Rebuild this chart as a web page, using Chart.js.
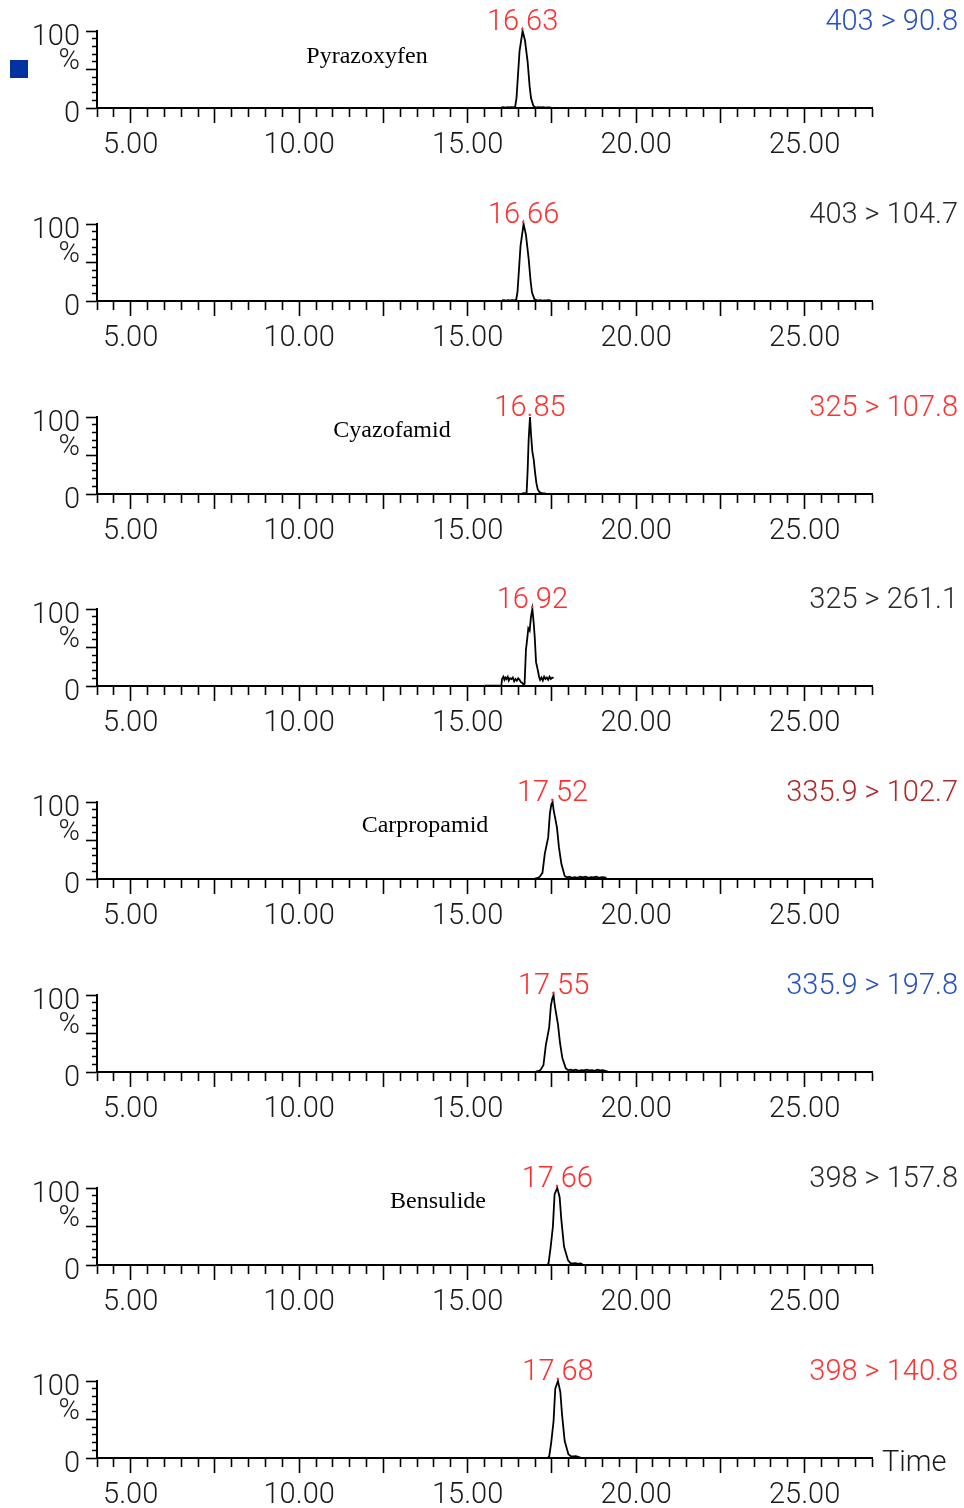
<!DOCTYPE html>
<html>
<head>
<meta charset="utf-8">
<script src="https://cdn.jsdelivr.net/npm/chart.js@4/dist/chart.umd.min.js"></script>
<style>
  html, body { margin: 0; padding: 0; background: #fff; width: 964px; height: 1508px; overflow: hidden; }
  canvas.panel { position: absolute; left: 0; }
</style>
</head>
<body>
<script>
// ---- chromatogram traces: retention time (min) and relative intensity (%) ----
const time1 = [16.00,16.06,16.12,16.18,16.24,16.30,16.36,16.41,16.45,16.54,16.63,16.70,16.78,16.84,16.88,16.95,17.00,17.06,17.12,17.18,17.24,17.30,17.36,17.42,17.48];
const signal1 = [0.8,1.2,0.6,1.0,0.7,1.1,0.8,1.5,13,74,100,88,60,28,13,3,1.2,0.8,1.1,0.7,1.0,0.6,0.9,0.7,0.5];

const time2 = [16.02,16.08,16.14,16.20,16.26,16.32,16.38,16.44,16.48,16.57,16.66,16.73,16.81,16.87,16.91,16.98,17.04,17.10,17.16,17.22,17.28,17.34,17.40,17.48];
const signal2 = [0.7,1.1,0.6,1.0,0.8,1.2,0.7,1.4,12,72,100,86,55,25,11,2.5,1.1,0.8,1.0,0.6,0.9,0.7,1.0,0.5];

const time3 = [16.61,16.66,16.71,16.75,16.78,16.81,16.85,16.88,16.92,16.96,17.00,17.04,17.08,17.13,17.18,17.23,17.28,17.33];
const signal3 = [0.5,1.0,0.8,2,30,70,100,78,55,45,28,14,6,2.5,1.5,1.0,0.8,0.5];

const time4 = [15.50,16.00,16.02,16.06,16.09,16.12,16.15,16.19,16.22,16.26,16.30,16.34,16.38,16.42,16.46,16.50,16.54,16.58,16.62,16.66,16.69,16.73,16.77,16.80,16.84,16.88,16.92,16.96,16.99,17.03,17.08,17.12,17.15,17.19,17.23,17.27,17.31,17.35,17.39,17.43,17.47,17.51,17.55];
const signal4 = [0.5,0.5,9,12,8,11,9,12,7,10,9,11,6,9,7,10,8,5,4,2,3,47,62,75,72,90,100,82,64,31,21,12,8,11,7,12,9,11,8,12,9,11,10];

const time5 = [16.99,17.05,17.10,17.14,17.22,17.29,17.39,17.44,17.48,17.52,17.55,17.58,17.65,17.71,17.78,17.88,17.95,18.02,18.10,18.18,18.26,18.34,18.42,18.50,18.58,18.66,18.74,18.82,18.90,18.98,19.06,19.12];
const signal5 = [0.5,1,2,3,8,33,54,85,96,100,90,83,67,41,20,4,2,3,1.5,2.5,1.5,3,2,3,1.5,2.5,2,3,1.5,2.5,2,1.5];

const time6 = [17.02,17.08,17.13,17.17,17.25,17.32,17.42,17.47,17.51,17.55,17.58,17.61,17.68,17.74,17.81,17.91,17.98,18.05,18.13,18.21,18.29,18.37,18.45,18.53,18.61,18.69,18.77,18.85,18.93,19.01,19.09,19.15];
const signal6 = [0.5,1,2,3,9,35,58,86,95,100,88,80,62,38,18,5,2.5,3,2,3,1.5,2.5,2,3,2,2.5,1.5,3,2,2.5,1.5,1];

const time7 = [17.36,17.40,17.46,17.53,17.58,17.66,17.73,17.78,17.86,17.98,18.05,18.12,18.20,18.28,18.35,18.41];
const signal7 = [0.5,2,22,50,92,100,88,59,24,6,2.5,2,2.5,1.5,2,1];

const time8 = [17.38,17.42,17.48,17.55,17.60,17.68,17.75,17.80,17.88,17.99,18.06,18.13,18.21,18.28,18.34];
const signal8 = [0.5,2,20,48,90,100,86,57,22,5,2.5,2,2.5,1.5,1];

const traceTimes = [time1, time2, time3, time4, time5, time6, time7, time8];
const traceSignals = [signal1, signal2, signal3, signal4, signal5, signal6, signal7, signal8];

// apex retention times printed above each peak
const apexTimes = [16.63, 16.66, 16.85, 16.92, 17.52, 17.55, 17.66, 17.68];
// MRM transitions (precursor > product)
const transitions = ['403 > 90.8', '403 > 104.7', '325 > 107.8', '325 > 261.1', '335.9 > 102.7', '335.9 > 197.8', '398 > 157.8', '398 > 140.8'];
// compound names (one per pair of transitions)
const compounds = ['Pyrazoxyfen', '', 'Cyazofamid', '', 'Carpropamid', '', 'Bensulide', ''];
// axis labels
const timeTickLabels = ['5.00', '10.00', '15.00', '20.00', '25.00'];
const intensityTickLabels = ['0', '100'];

// ---- styling / layout ----
const transitionColors = ['#2550c4', '#2a2a2a', '#ff3030', '#2a2a2a', '#b02828', '#2550c4', '#2a2a2a', '#ff3030'];
const apexColor = '#ff2e2e';
const textColor = '#1a1a1a';
const compoundX = [367, 0, 392, 0, 425, 0, 438, 0];
const compoundDy = [26, 0, 14, 0, 24, 0, 14, 0];
const AXIS_FONT = { family: 'Roboto', size: 29, weight: 300, lineHeight: 1 };
const AXIS_FONT_CSS = '300 29px Roboto';
const PANEL_STEP = 192.8;
const PANEL_H = 193;

const isMultiple = (v, step) => Math.abs(v / step - Math.round(v / step)) < 1e-6;

const panelDecor = {
  id: 'panelDecor',
  afterDraw(chart, args, o) {
    const { ctx, chartArea, scales } = chart;
    const xs = scales.x, ys = scales.y;
    ctx.save();
    ctx.textBaseline = 'middle';
    ctx.font = AXIS_FONT_CSS;
    // percent sign beside the mid tick
    ctx.fillStyle = textColor;
    ctx.textAlign = 'right';
    ctx.fillText('%', 80, ys.getPixelForValue(50) - 8);
    // apex retention time
    ctx.fillStyle = apexColor;
    ctx.textAlign = 'center';
    ctx.fillText(o.apex.toFixed(2), xs.getPixelForValue(o.apex), chartArea.top - 8);
    // transition label, top right
    ctx.fillStyle = o.color;
    ctx.textAlign = 'right';
    ctx.fillText(o.transition, 958, chartArea.top - 8);
    // compound name
    if (o.name) {
      ctx.font = '24px "Liberation Serif", "Times New Roman", serif';
      ctx.fillStyle = '#000';
      ctx.textAlign = 'center';
      ctx.fillText(o.name, o.nameX, chartArea.top + o.nameDy);
    }
    // selection marker
    if (o.marker) {
      ctx.fillStyle = '#0033a0';
      ctx.fillRect(10, 60, 18, 18);
    }
    // axis title on the last trace
    if (o.timeTitle) {
      ctx.font = AXIS_FONT_CSS;
      ctx.fillStyle = textColor;
      ctx.textAlign = 'left';
      ctx.fillText('Time', 882, chartArea.bottom + 6);
    }
    ctx.restore();
  }
};

for (let i = 0; i < 8; i++) {
  const cv = document.createElement('canvas');
  cv.className = 'panel';
  cv.width = 964;
  cv.height = PANEL_H;
  cv.style.top = Math.round(i * PANEL_STEP) + 'px';
  document.body.appendChild(cv);

  const points = traceTimes[i].map((t, k) => ({ x: t, y: traceSignals[i][k] }));

  new Chart(cv, {
    type: 'line',
    data: {
      datasets: [{
        data: points,
        borderColor: '#000',
        borderWidth: 1.8,
        pointRadius: 0,
        tension: 0,
        fill: false,
        clip: false
      }]
    },
    options: {
      responsive: false,
      animation: false,
      devicePixelRatio: 1,
      events: [],
      layout: { padding: { top: 31, right: 92, left: 0, bottom: 0 } },
      plugins: {
        legend: { display: false },
        tooltip: { enabled: false },
        panelDecor: {
          apex: apexTimes[i],
          transition: transitions[i],
          color: transitionColors[i],
          name: compounds[i],
          nameX: compoundX[i],
          nameDy: compoundDy[i],
          marker: i === 0,
          timeTitle: i === 7
        }
      },
      scales: {
        x: {
          type: 'linear',
          min: 4,
          max: 27,
          afterFit: s => { s.height = PANEL_H - 108; },
          border: { display: true, color: '#000', width: 2 },
          grid: {
            drawOnChartArea: false,
            drawTicks: true,
            tickLength: 15,
            tickColor: '#000',
            tickWidth: 1.6,
            // long ticks every 2.5 min, short ones in between
            tickBorderDash: c => (c.tick && isMultiple(c.tick.value, 2.5)) ? [] : [8, 40]
          },
          ticks: {
            stepSize: 0.5,
            autoSkip: false,
            maxRotation: 0,
            padding: 8,
            color: textColor,
            font: AXIS_FONT,
            callback: v => {
              const s = Number(v).toFixed(2);
              return timeTickLabels.includes(s) ? s : '';
            }
          }
        },
        y: {
          min: 0,
          max: 100,
          afterFit: s => { s.width = 97; },
          border: { display: true, color: '#000', width: 2 },
          grid: {
            drawOnChartArea: false,
            drawTicks: true,
            tickLength: 11,
            tickColor: '#000',
            tickWidth: 1.6,
            // tick is stroked from its outer end toward the axis: keep only the inner 5 px for minor ticks
            tickBorderDash: c => (c.tick && isMultiple(c.tick.value, 50)) ? [] : [0, 6, 5, 100]
          },
          ticks: {
            stepSize: 10,
            autoSkip: false,
            padding: 6,
            labelOffset: 7,
            color: textColor,
            font: AXIS_FONT,
            callback: v => intensityTickLabels.includes(String(v)) ? String(v) : ''
          }
        }
      }
    },
    plugins: [panelDecor]
  });
}
</script>
</body>
</html>
